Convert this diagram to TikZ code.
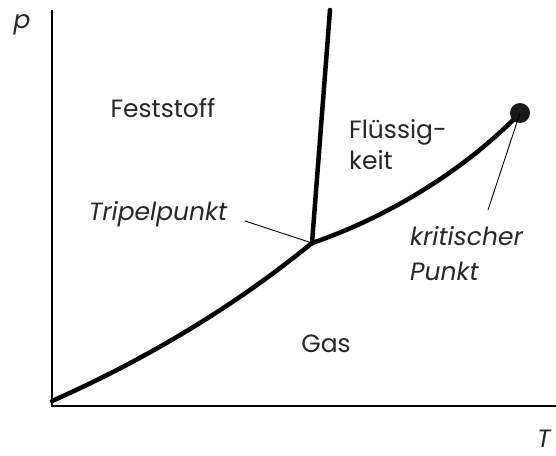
\documentclass[tikz,border=0pt]{standalone}
\usepackage{fontspec}
\setmainfont{Poppins}
\usetikzlibrary{positioning}

\begin{document}
\begin{tikzpicture}[
    x=1pt, y=-1pt,
    axis/.style={
        line width=2.5pt, black
    },
    phaseline/.style={
        line width=4.5pt, black, line cap=round, line join=round
    },
    leader/.style={
        line width=0.9pt, black
    },
    region/.style={
        font=\fontsize{25}{31}\selectfont, text=black!85, inner sep=0pt, anchor=base
    },
    point/.style={
        font=\fontsize{25}{35}\selectfont\itshape, text=black!85, inner sep=0pt, anchor=base, align=left
    }
]
\useasboundingbox (0,0) rectangle (556,455);

% Axes
\coordinate (origin) at (52,406);
\coordinate (ptop) at (52,10);
\coordinate (tend) at (556,406);
\draw[axis] (ptop) -- (origin) -- (tend);
\node[point] (plabel) at (22,28) {p};
\node[point] (tlabel) at (544,447) {T};

% Phase boundaries
\coordinate (start) at (52,401);
\coordinate (triple) at (312,243);
\coordinate (critical) at (520,113);
\coordinate (melt) at (330,10);
\draw[phaseline] (start) .. controls (140,362) and (230,310) .. (triple);
\draw[phaseline] (triple) .. controls (380,220) and (460,175) .. (critical);
\draw[phaseline] (triple) -- (melt);
\fill[black!90] (critical) circle (10);

% Regions
\node[region] (solid) at (163,117) {Feststoff};
\node[region, anchor=base west, align=left] (liquid) at (349,169) {Flüssig-\\keit};
\node[region] (gas) at (326,352) {Gas};

% Special points
\node[point] (tripletext) at (158,220) {Tripelpunkt};
\node[point, anchor=base west] (crittext) at (410,280) {kritischer\\Punkt};
\coordinate (tripleleg) at (245,221);
\coordinate (critleg) at (488,210);
\draw[leader] (tripleleg) -- (triple);
\draw[leader] (critleg) -- (critical);

\end{tikzpicture}
\end{document}
